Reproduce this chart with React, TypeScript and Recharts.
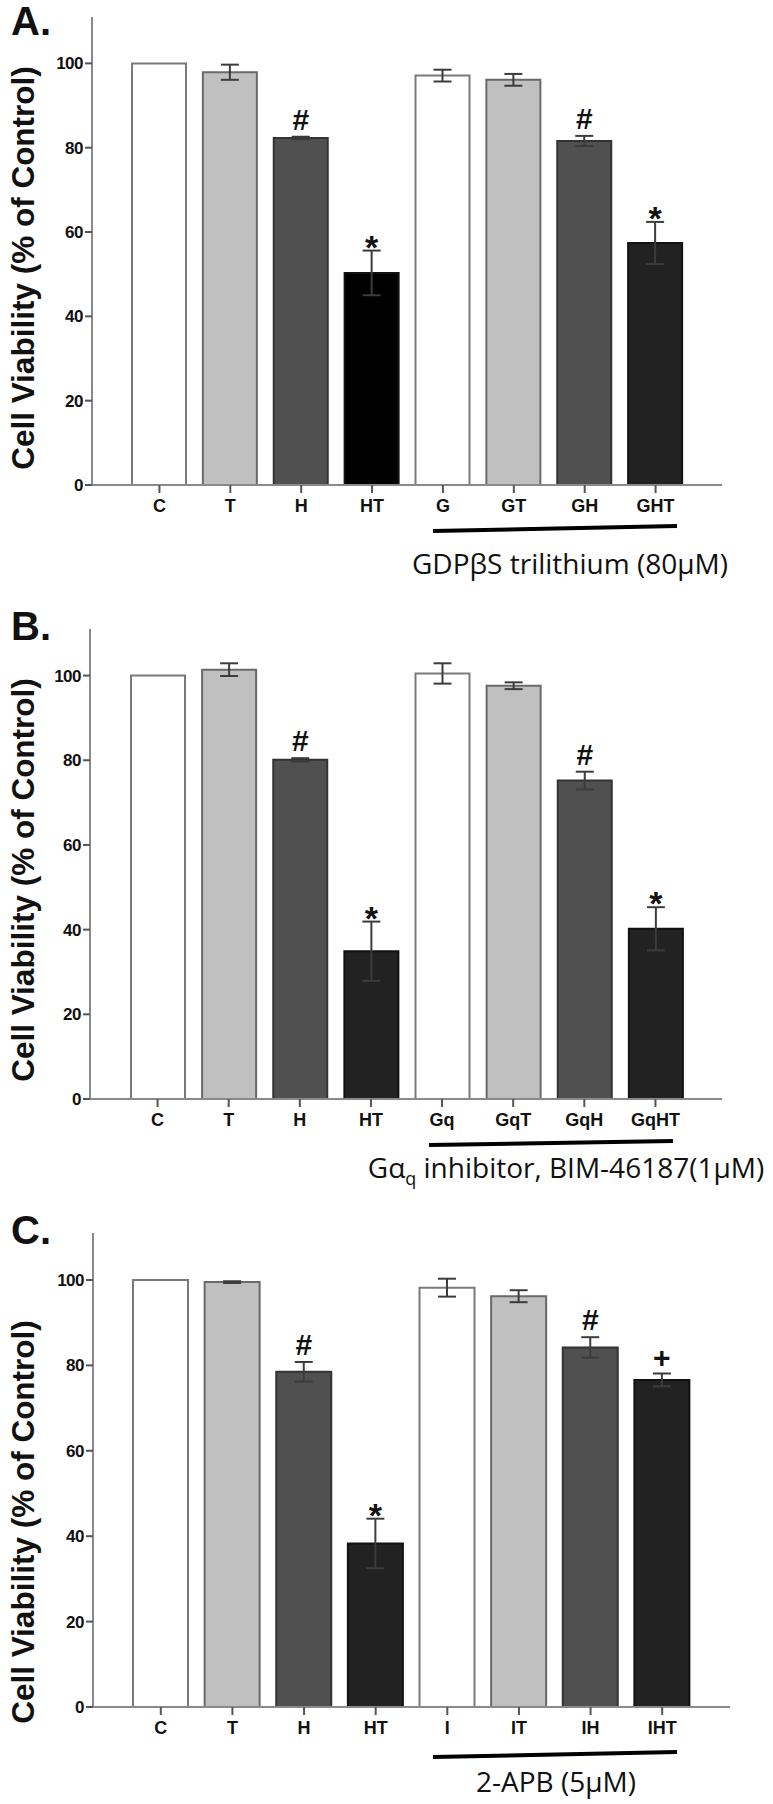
import React from 'react'
import { BarChart, Bar, XAxis, YAxis, Cell, ErrorBar, LabelList } from 'recharts'

// Panel A: GDPβS trilithium
const labelsA = ['C', 'T', 'H', 'HT', 'G', 'GT', 'GH', 'GHT']
const valuesA = [100, 97.9, 82.3, 50.3, 97.1, 96.1, 81.6, 57.4]
const errorsA = [0, 1.8, 0.3, 5.3, 1.4, 1.4, 1.2, 5.0]
const marksA = ['', '', '#', '*', '', '', '#', '*']

// Panel B: Gαq inhibitor
const labelsB = ['C', 'T', 'H', 'HT', 'Gq', 'GqT', 'GqH', 'GqHT']
const valuesB = [100, 101.4, 80.1, 34.9, 100.5, 97.6, 75.2, 40.2]
const errorsB = [0, 1.5, 0.4, 7.0, 2.4, 0.8, 2.1, 5.1]
const marksB = ['', '', '#', '*', '', '', '#', '*']

// Panel C: 2-APB
const labelsC = ['C', 'T', 'H', 'HT', 'I', 'IT', 'IH', 'IHT']
const valuesC = [100, 99.5, 78.5, 38.3, 98.2, 96.2, 84.2, 76.6]
const errorsC = [0, 0.2, 2.3, 5.8, 2.1, 1.4, 2.4, 1.5]
const marksC = ['', '', '#', '*', '', '', '#', '+']

const yTicks = [0, 20, 40, 60, 80, 100]
const Y_MAX = 111

const WHITE = '#ffffff'
const LIGHT = '#c0c0c0'
const MID = '#505050'
const DARK = '#222222'

const fillsA = [WHITE, LIGHT, MID, '#000000', WHITE, LIGHT, MID, DARK]
const fillsBC = [WHITE, LIGHT, MID, DARK, WHITE, LIGHT, MID, DARK]
const strokes = ['#7a7a7a', '#6a6a6a', '#333333', '#111111', '#7a7a7a', '#6a6a6a', '#333333', '#111111']

const SANS = 'Liberation Sans, Arial, sans-serif'
const NOTE = 'Open Sans, sans-serif'

interface PanelCfg {
  axisTop: number
  zeroY: number
  left: number
  right: number
  padL: number
  padR: number
  barSize: number
  labels: string[]
  values: number[]
  errors: number[]
  marks: string[]
  fills: string[]
}

const markOffset: Record<string, number> = { '#': -7, '*': 8, '+': -5 }
const markSize: Record<string, number> = { '#': 30, '*': 34, '+': 30 }

function Panel({ cfg }: { cfg: PanelCfg }) {
  const { axisTop, zeroY, left, right, padL, padR, barSize, labels, values, errors, marks, fills } = cfg
  const yAxisWidth = 60
  const xAxisHeight = 40
  const chartTop = axisTop - 20
  const height = zeroY - chartTop + xAxisHeight + 5
  const ppu = (zeroY - axisTop) / Y_MAX
  const data = labels.map((name, i) => ({ name, value: values[i], err: errors[i], mark: marks[i] }))

  const renderMark = (props: any) => {
    const vb = props.viewBox || props
    const x = vb.x ?? props.x
    const y = vb.y ?? props.y
    const w = vb.width ?? props.width
    const v = props.value
    if (!v) return null
    const errTop = y - errors[props.index] * ppu
    return (
      <text
        x={x + w / 2}
        y={errTop + markOffset[v]}
        textAnchor="middle"
        fontFamily={SANS}
        fontWeight={700}
        fontSize={markSize[v]}
        fill="#111"
      >
        {v}
      </text>
    )
  }

  return (
    <div style={{ position: 'absolute', left: 0, top: chartTop }}>
      <BarChart
        width={773}
        height={height}
        data={data}
        margin={{ top: 20, right: 773 - right, bottom: 5, left: left - yAxisWidth }}
      >
        <XAxis
          dataKey="name"
          interval={0}
          height={xAxisHeight}
          padding={{ left: padL, right: padR }}
          axisLine={{ stroke: '#8a8a8a', strokeWidth: 2 }}
          tickLine={{ stroke: '#555', strokeWidth: 2 }}
          tickSize={8}
          tickMargin={6}
          tick={{ fill: '#111', fontSize: 18, fontWeight: 700, fontFamily: SANS }}
        />
        <YAxis
          width={yAxisWidth}
          domain={[0, Y_MAX]}
          ticks={yTicks}
          axisLine={{ stroke: '#8a8a8a', strokeWidth: 2 }}
          tickLine={{ stroke: '#555', strokeWidth: 2 }}
          tickSize={7}
          tickMargin={2}
          tick={{ fill: '#111', fontSize: 17, fontWeight: 700, fontFamily: SANS, letterSpacing: -0.5 }}
        />
        <Bar dataKey="value" barSize={barSize} strokeWidth={2} isAnimationActive={false}>
          {data.map((d, i) => (
            <Cell key={d.name} fill={fills[i]} stroke={strokes[i]} />
          ))}
          <ErrorBar dataKey="err" width={9} strokeWidth={2} stroke="#3c3c3c" isAnimationActive={false} />
          <LabelList dataKey="mark" content={renderMark} />
        </Bar>
      </BarChart>
    </div>
  )
}

const panelA: PanelCfg = {
  axisTop: 17, zeroY: 485, left: 92, right: 722, padL: 32, padR: 31, barSize: 54,
  labels: labelsA, values: valuesA, errors: errorsA, marks: marksA, fills: fillsA,
}
const panelB: PanelCfg = {
  axisTop: 629, zeroY: 1099, left: 90, right: 722, padL: 32, padR: 31, barSize: 54,
  labels: labelsB, values: valuesB, errors: errorsB, marks: marksB, fills: fillsBC,
}
const panelC: PanelCfg = {
  axisTop: 1233, zeroY: 1707, left: 93, right: 730, padL: 32, padR: 32, barSize: 55,
  labels: labelsC, values: valuesC, errors: errorsC, marks: marksC, fills: fillsBC,
}

const yTitle = 'Cell Viability (% of Control)'

function Title({ cy }: { cy: number }) {
  return (
    <text
      transform={`translate(23,${cy}) rotate(-90)`}
      textAnchor="middle"
      dominantBaseline="central"
      fontFamily={SANS}
      fontWeight={700}
      fontSize={31.5}
      fill="#111"
    >
      {yTitle}
    </text>
  )
}

export default function App() {
  return (
    <div style={{ position: 'absolute', left: 0, top: 0, width: 773, height: 1804, background: '#fff', overflow: 'hidden' }}>
      <Panel cfg={panelA} />
      <Panel cfg={panelB} />
      <Panel cfg={panelC} />
      <svg width={773} height={1804} style={{ position: 'absolute', left: 0, top: 0, pointerEvents: 'none' }}>
        <g fontFamily={SANS} fontWeight={700} fontSize={40} fill="#111">
          <text x={11} y={35}>A.</text>
          <text x={11} y={640}>B.</text>
          <text x={11} y={1244}>C.</text>
        </g>
        <Title cy={268} />
        <Title cy={880} />
        <Title cy={1522} />

        <line x1={433} y1={531} x2={677} y2={526} stroke="#000" strokeWidth={4} />
        <line x1={429} y1={1145} x2={673} y2={1141} stroke="#000" strokeWidth={4} />
        <line x1={433} y1={1757} x2={677} y2={1752} stroke="#000" strokeWidth={4} />

        <g fontFamily={NOTE} fontSize={28} fill="#111" textAnchor="middle">
          <text x={570} y={574}>GDPβS trilithium (80μM)</text>
          <text x={566} y={1178}>
            Gα<tspan fontSize={18} dy={7}>q</tspan>
            <tspan dy={-7}> inhibitor, BIM-46187(1μM)</tspan>
          </text>
          <text x={556} y={1792}>2-APB (5μM)</text>
        </g>
      </svg>
    </div>
  )
}
